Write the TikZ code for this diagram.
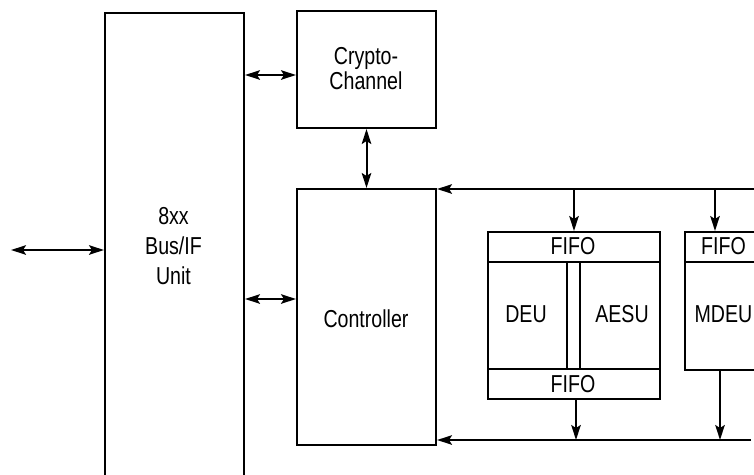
\documentclass[tikz,border=0pt]{standalone}
\usepackage{fontspec}
\setmainfont{Liberation Sans}[FakeStretch=0.8]
\usetikzlibrary{arrows.meta}
\begin{document}
\begin{tikzpicture}[x=1pt,y=-1pt,
  box/.style={draw, line width=2pt, inner sep=0pt, anchor=north west},
  lbl/.style={font=\fontsize{24.5}{24.5}\selectfont, align=center, inner sep=0pt},
  conn/.style={line width=2pt},
  tip/.style={-{Stealth[length=15pt,width=9.5pt,inset=3pt]}},
  both/.style={{Stealth[length=15pt,width=9.5pt,inset=3pt]}-{Stealth[length=15pt,width=9.5pt,inset=3pt]}}]
\useasboundingbox (0,0) rectangle (754,474);
\clip (0,0) rectangle (754,474);
% boxes
\node[box, minimum width=139pt, minimum height=500pt] (bus) at (104,12) {};
\node[box, minimum width=139pt, minimum height=117pt] (crypto) at (296,10) {};
\node[box, minimum width=139pt, minimum height=256pt] (ctrl) at (296,188) {};
\node[box, minimum width=172pt, minimum height=167pt] (grp) at (487,231) {};
\node[box, minimum width=100pt, minimum height=138pt] (mdeu) at (684,231) {};
% internal dividers
\draw[conn] (grp.west |- 0,262) -- (grp.east |- 0,262);
\draw[conn] (grp.west |- 0,369) -- (grp.east |- 0,369);
\draw[conn] (567,262) -- (567,369);
\draw[conn] (580,262) -- (580,369);
\draw[conn] (mdeu.west |- 0,262) -- (mdeu.east |- 0,262);
% labels
\node[lbl, font=\fontsize{24.5}{30}\selectfont] (bustext) at (173.5,246) {8xx\\Bus/IF\\Unit};
\node[lbl, font=\fontsize{24.5}{25}\selectfont] (cryptotext) at (366,68.5) {Crypto-\\Channel};
\node[lbl] (ctrltext) at (366,319) {Controller};
\node[lbl] (fifo1) at (573,246.5) {FIFO};
\node[lbl] (deu) at (526,314) {DEU};
\node[lbl] (aesu) at (622,314) {AESU};
\node[lbl] (fifo2) at (573,384.5) {FIFO};
\node[lbl] (fifo3) at (723.5,246.5) {FIFO};
\node[lbl] (mdeutext) at (723.5,314) {MDEU};
% connectors
\coordinate (ext) at (11,250);
\coordinate (tr) at (754,189);
\coordinate (br) at (751,440);
\draw[conn,both] (ext) -- (bus.west |- ext);
\draw[conn,both] (bus.east |- 0,75) -- (crypto.west |- 0,75);
\draw[conn,both] (bus.east |- 0,299) -- (ctrl.west |- 0,299);
\draw[conn,both] (crypto.south) -- (ctrl.north);
\draw[conn,tip] (tr) -- (ctrl.east |- tr);
\draw[conn,tip] (grp.north |- tr) -- (grp.north);
\draw[conn,tip] (tr -| 715,0) -- (mdeu.north -| 715,0);
\draw[conn,tip] (br) -- (ctrl.east |- br);
\draw[conn,tip] (grp.south -| 576,0) -- (br -| 576,0);
\draw[conn,tip] (mdeu.south -| 720,0) -- (br -| 720,0);
\end{tikzpicture}
\end{document}
